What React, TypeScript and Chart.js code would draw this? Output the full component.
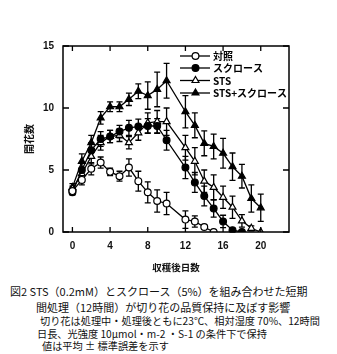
import React, { useEffect, useRef } from 'react';
import { Chart, registerables } from 'chart.js';

Chart.register(...registerables);

// ---- data ----
const days = [0, 1, 2, 3, 4, 5, 6, 7, 8, 9, 10, 12, 13, 14, 15, 16, 17, 18, 19, 20];
const seriesLabels = ['対照', 'スクロース', 'STS', 'STS+スクロース'];

const controlMean = [3.3, 4.2, 5.1, 5.6, 4.85, 4.5, 5.2, 4.1, 3.2, 2.5, 2.3, 1.0, 0.85, 0.4, 0.0, null, null, null, null, null];
const controlErr = [0.2, 0.4, 0.5, 0.45, 0.3, 0.4, 0.7, 0.8, 0.85, 0.9, 0.9, 0.7, 0.45, 0.15, 0, null, null, null, null, null];

const sucroseMean = [3.2, 5.0, 6.6, 7.5, 7.7, 8.1, 8.4, 8.5, 8.55, 8.55, 7.4, 5.2, 4.0, 2.9, 1.9, 0.85, 0.15, 0.0, null, null];
const sucroseErr = [0.2, 0.6, 0.6, 0.6, 0.5, 0.5, 0.6, 0.6, 0.6, 0.6, 0.8, 0.9, 0.8, 0.8, 0.7, 0.5, 0.15, 0, null, null];

const stsMean = [3.5, 4.7, 6.1, 7.2, 7.7, 7.8, 7.2, 8.0, 8.8, 8.9, 8.9, 6.8, 5.7, 4.1, 3.6, 2.8, 2.0, 0.9, 0.3, 0.0];
const stsErr = [0.2, 0.5, 0.6, 0.6, 0.5, 0.5, 0.5, 0.6, 0.8, 0.9, 1.1, 1.0, 1.1, 0.9, 1.0, 0.9, 0.9, 0.5, 0.2, 0];

const stsSucMean = [3.6, 5.7, 7.2, 9.2, 10.1, 10.1, 10.7, 11.35, 11.0, 11.5, 12.2, 9.7, 8.6, 7.15, 6.9, 6.35, 5.27, 4.5, 2.7, 1.95];
const stsSucErr = [0.3, 0.6, 0.6, 0.5, 0.4, 0.4, 0.5, 0.6, 1.1, 1.4, 1.4, 1.3, 1.0, 1.0, 1.0, 1.2, 1.1, 0.95, 1.1, 1.1];

const xTicks = [0, 4, 8, 12, 16, 20];
const yTicks = [0, 5, 10, 15];

const xTitle = '収穫後日数';
const yTitle = '開花数';

const captionLines = [
  '図2 STS（0.2mM）とスクロース（5%）を組み合わせた短期',
  '間処理（12時間）が切り花の品質保持に及ぼす影響',
  '切り花は処理中・処理後ともに23℃、相対湿度 70%、12時間',
  '日長、光強度 10μmol・m-2 ・S-1 の条件下で保持',
  '値は平均 ± 標準誤差を示す',
];

// ---- helpers ----
const toPoints = (mean: (number | null)[], err: (number | null)[]) => {
  const pts: { x: number; y: number; e: number }[] = [];
  days.forEach((d, i) => {
    const m = mean[i];
    if (m !== null && m !== undefined) pts.push({ x: d, y: m, e: (err[i] as number) || 0 });
  });
  return pts;
};

const markerStyles = [
  { style: 'circle', fill: '#ffffff', r: 3.4 },
  { style: 'circle', fill: '#000000', r: 3.4 },
  { style: 'triangle', fill: '#ffffff', r: 4 },
  { style: 'triangle', fill: '#000000', r: 4 },
];

const drawMarker = (ctx: CanvasRenderingContext2D, style: string, x: number, y: number, r: number, fill: string) => {
  ctx.beginPath();
  if (style === 'circle') {
    ctx.arc(x, y, r, 0, Math.PI * 2);
  } else {
    let rad = 0;
    ctx.moveTo(x + Math.sin(rad) * r, y - Math.cos(rad) * r);
    rad += (2 * Math.PI) / 3;
    ctx.lineTo(x + Math.sin(rad) * r, y - Math.cos(rad) * r);
    rad += (2 * Math.PI) / 3;
    ctx.lineTo(x + Math.sin(rad) * r, y - Math.cos(rad) * r);
    ctx.closePath();
  }
  ctx.fillStyle = fill;
  ctx.fill();
  ctx.lineWidth = 1.2;
  ctx.strokeStyle = '#000';
  ctx.stroke();
};

const errorBarPlugin = {
  id: 'errorBars',
  beforeDatasetsDraw(chart: any) {
    const ctx = chart.ctx;
    const xs = chart.scales.x;
    const ys = chart.scales.y;
    ctx.save();
    ctx.strokeStyle = '#000';
    ctx.lineWidth = 1.3;
    chart.data.datasets.forEach((ds: any) => {
      ds.data.forEach((p: any) => {
        if (!p.e) return;
        const px = xs.getPixelForValue(p.x);
        const top = ys.getPixelForValue(p.y + p.e);
        const bot = ys.getPixelForValue(Math.max(0, p.y - p.e));
        ctx.beginPath();
        ctx.moveTo(px, top);
        ctx.lineTo(px, bot);
        ctx.moveTo(px - 3, top);
        ctx.lineTo(px + 3, top);
        ctx.moveTo(px - 3, bot);
        ctx.lineTo(px + 3, bot);
        ctx.stroke();
      });
    });
    ctx.restore();
  },
};

const framePlugin = {
  id: 'frame',
  afterDraw(chart: any) {
    const ctx = chart.ctx;
    const { left, right, top, bottom } = chart.chartArea;
    const xs = chart.scales.x;
    const ys = chart.scales.y;
    ctx.save();
    ctx.strokeStyle = '#000';
    ctx.lineWidth = 1.5;
    ctx.strokeRect(left, top, right - left, bottom - top);
    ctx.lineWidth = 1.3;
    ctx.beginPath();
    xTicks.forEach((v) => {
      const px = xs.getPixelForValue(v);
      ctx.moveTo(px, bottom);
      ctx.lineTo(px, bottom - 5);
      ctx.moveTo(px, top);
      ctx.lineTo(px, top + 5);
    });
    yTicks.forEach((v) => {
      const py = ys.getPixelForValue(v);
      ctx.moveTo(left, py);
      ctx.lineTo(left + 6, py);
      ctx.moveTo(right, py);
      ctx.lineTo(right - 6, py);
    });
    ctx.stroke();

    // legend
    const rows = [56, 68, 80.5, 93];
    ctx.font = 'bold 10px "Noto Sans CJK JP", sans-serif';
    ctx.textBaseline = 'middle';
    ctx.textAlign = 'left';
    chart.data.datasets.forEach((ds: any, i: number) => {
      const y = rows[i];
      ctx.beginPath();
      ctx.lineWidth = 1.3;
      ctx.moveTo(180, y);
      ctx.lineTo(210, y);
      ctx.stroke();
      const m = markerStyles[i];
      drawMarker(ctx, m.style, 195.5, y, m.r, m.fill);
      ctx.fillStyle = '#000';
      ctx.fillText(ds.label, 213, y + 0.5);
    });
    ctx.restore();
  },
};

function App() {
  const ref = useRef<HTMLCanvasElement | null>(null);

  useEffect(() => {
    if (!ref.current) return;
    const means = [controlMean, sucroseMean, stsMean, stsSucMean];
    const errs = [controlErr, sucroseErr, stsErr, stsSucErr];
    const tickFont = { family: '"Liberation Sans", Arial, sans-serif', size: 10, weight: 'bold' as const };
    const chart = new Chart(ref.current, {
      type: 'line',
      data: {
        datasets: seriesLabels.map((label, i) => ({
          label,
          data: toPoints(means[i], errs[i]),
          borderColor: '#000',
          borderWidth: 1.3,
          backgroundColor: markerStyles[i].fill,
          pointBackgroundColor: markerStyles[i].fill,
          pointBorderColor: '#000',
          pointBorderWidth: 1.2,
          pointStyle: markerStyles[i].style as any,
          pointRadius: markerStyles[i].r,
          pointHoverRadius: markerStyles[i].r,
          tension: 0,
          fill: false,
        })),
      },
      options: {
        animation: false,
        responsive: false,
        devicePixelRatio: 1,
        layout: { padding: { top: 46, right: 48, left: 0, bottom: 0 } },
        plugins: { legend: { display: false }, tooltip: { enabled: false } },
        scales: {
          x: {
            type: 'linear',
            min: -1,
            max: 23,
            afterBuildTicks: (s: any) => {
              s.ticks = xTicks.map((v) => ({ value: v }));
            },
            afterFit: (s: any) => {
              s.height = 48;
            },
            grid: { display: false, drawTicks: false },
            border: { display: false },
            ticks: { padding: 8, font: tickFont, color: '#111', maxRotation: 0, autoSkip: false },
            title: {
              display: true,
              text: xTitle,
              color: '#111',
              font: { family: '"Noto Sans CJK JP", sans-serif', size: 9.5, weight: 'bold' },
              padding: { top: 0, bottom: 7 },
            },
          },
          y: {
            type: 'linear',
            min: 0,
            max: 15,
            afterBuildTicks: (s: any) => {
              s.ticks = yTicks.map((v) => ({ value: v }));
            },
            afterFit: (s: any) => {
              s.width = 63;
            },
            grid: { display: false, drawTicks: false },
            border: { display: false },
            ticks: { padding: 9, font: tickFont, color: '#111' },
            title: {
              display: true,
              text: yTitle,
              color: '#111',
              font: { family: '"Noto Sans CJK JP", sans-serif', size: 10, weight: 'bold' },
              padding: { top: 23, bottom: 0 },
            },
          },
        },
      },
      plugins: [errorBarPlugin, framePlugin],
    });
    return () => chart.destroy();
  }, []);

  const cap = (text: string, left: number, centerY: number, size: number, key: number) => (
    <div
      key={key}
      style={{
        position: 'absolute',
        left,
        top: centerY - size * 0.65,
        fontSize: size,
        lineHeight: `${Math.round(size * 1.3)}px`,
        fontFamily: '"Noto Sans CJK JP", sans-serif',
        color: '#111',
        whiteSpace: 'nowrap',
      }}
    >
      {text}
    </div>
  );

  return (
    <div style={{ position: 'absolute', left: 0, top: 0, width: 337, height: 354, background: '#fff', overflow: 'hidden' }}>
      <canvas ref={ref} width={337} height={280} style={{ position: 'absolute', left: 0, top: 0, width: 337, height: 280 }} />
      {cap(captionLines[0], 10, 291, 11, 0)}
      {cap(captionLines[1], 36, 307, 11, 1)}
      {cap(captionLines[2], 40, 321, 10.2, 2)}
      {cap(captionLines[3], 37, 334, 10.2, 3)}
      {cap(captionLines[4], 42, 346, 10.2, 4)}
    </div>
  );
}

export default App;
